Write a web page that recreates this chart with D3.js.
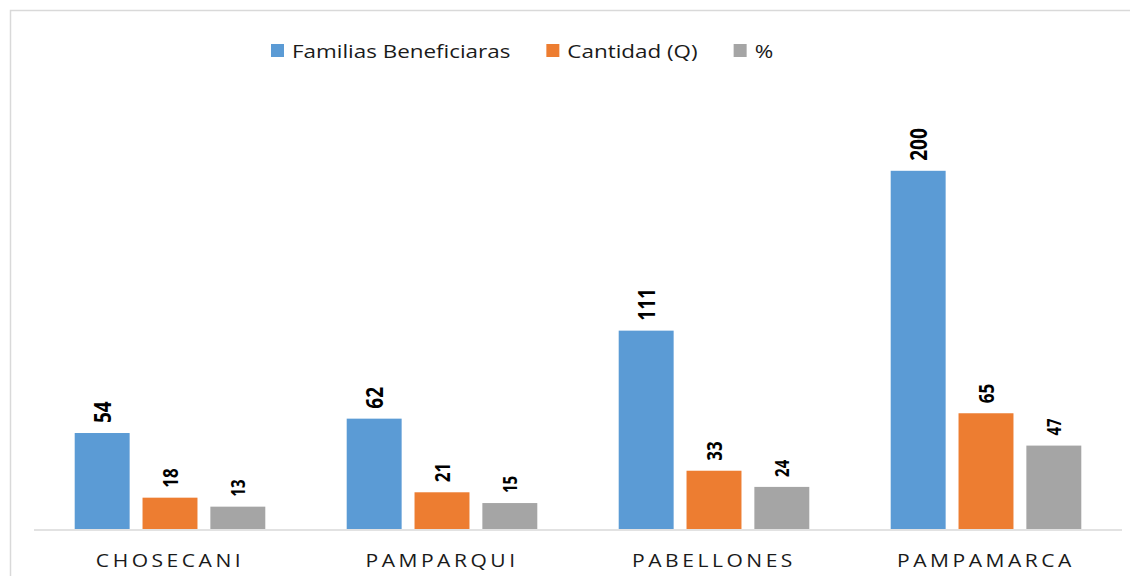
<!DOCTYPE html>
<head>
  <meta charset="utf-8">
  <script src="https://d3js.org/d3.v7.min.js"></script>
  <style>
    body { margin: 0; background: #fff; }
    svg { display: block; font-family: "Open Sans", sans-serif; }
  </style>
</head>
<body>
<script>
  // chart values
  var categories = ["CHOSECANI", "PAMPARQUI", "PABELLONES", "PAMPAMARCA"];
  var seriesNames = ["Familias Beneficiaras", "Cantidad (Q)", "%"];
  var familias = [54, 62, 111, 200];
  var cantidad = [18, 21, 33, 65];
  var porcentaje = [13, 15, 24, 47];

  var seriesValues = [familias, cantidad, porcentaje];
  var colors = ["#5B9BD5", "#ED7D31", "#A5A5A5"];
  // label sizes differ a bit per series in the original
  var labelSizes = [19, 17, 15];
  var stretch = 1.17; // the original picture is a little wider than tall

  var outerWidth = 1130, outerHeight = 576;

  var svg = d3.select("body").append("svg")
    .attr("width", outerWidth)
    .attr("height", outerHeight);

  // frame of the chart area
  svg.append("rect")
    .attr("x", 10.5).attr("y", 10.5)
    .attr("width", outerWidth).attr("height", outerHeight)
    .attr("fill", "none")
    .attr("stroke", "#d9d9d9")
    .attr("stroke-width", 1.5);

  var xScale = d3.scaleBand()
    .domain(categories)
    .range([34, 1122]);

  var xInner = d3.scaleBand()
    .domain(d3.range(seriesNames.length))
    .range([0, xScale.bandwidth()])
    .paddingInner(0.19)
    .paddingOuter(0.6);

  var yScale = d3.scaleLinear()
    .domain([0, 250])
    .range([530, 81]);

  // build rows for drawing
  var rows = [];
  categories.forEach(function(c, i) {
    seriesValues.forEach(function(vals, s) {
      rows.push({ cat: c, s: s, value: vals[i] });
    });
  });

  svg.selectAll("rect.bar")
    .data(rows)
    .enter().append("rect")
    .attr("class", "bar")
    .attr("x", function(d) { return xScale(d.cat) + xInner(d.s); })
    .attr("y", function(d) { return yScale(d.value); })
    .attr("width", xInner.bandwidth())
    .attr("height", function(d) { return yScale(0) - yScale(d.value) - 1; })
    .attr("fill", function(d) { return colors[d.s]; });

  // value labels, rotated
  svg.selectAll("text.val")
    .data(rows)
    .enter().append("text")
    .attr("class", "val")
    .attr("transform", function(d) {
      var cx = xScale(d.cat) + xInner(d.s) + xInner.bandwidth() / 2;
      var cy = yScale(d.value) - 10;
      return "translate(" + cx + "," + cy + ") rotate(-90) scale(1,1.25)";
    })
    .attr("dy", "0.36em")
    .attr("text-anchor", "start")
    .attr("font-weight", "bold")
    .attr("font-size", function(d) { return labelSizes[d.s] + "px"; })
    .attr("fill", "#000")
    .text(function(d) { return d.value; });

  // baseline
  svg.append("line")
    .attr("x1", xScale.range()[0]).attr("x2", xScale.range()[1])
    .attr("y1", yScale(0)).attr("y2", yScale(0))
    .attr("stroke", "#d9d9d9")
    .attr("stroke-width", 1.5);

  // category labels
  svg.selectAll("text.cat")
    .data(categories)
    .enter().append("text")
    .attr("class", "cat")
    .attr("transform", function(d) {
      return "translate(" + (xScale(d) + xScale.bandwidth() / 2) + ",567) scale(" + stretch + ",1)";
    })
    .attr("text-anchor", "middle")
    .attr("font-size", "18px")
    .attr("letter-spacing", "3px")
    .attr("fill", "#1a1a1a")
    .text(function(d) { return d; });

  // legend
  var lx = 271;
  var legStretch = 1.18;
  seriesNames.forEach(function(name, i) {
    svg.append("rect")
      .attr("x", lx).attr("y", 44)
      .attr("width", 13).attr("height", 13)
      .attr("fill", colors[i]);
    var t = svg.append("text")
      .attr("transform", "translate(" + (lx + 21) + ",58) scale(" + legStretch + ",1)")
      .attr("font-size", "19px")
      .attr("fill", "#1a1a1a")
      .text(name);
    var w = t.node().getBBox().width * legStretch;
    lx = lx + 21 + w + 36;
  });
</script>
</body>
